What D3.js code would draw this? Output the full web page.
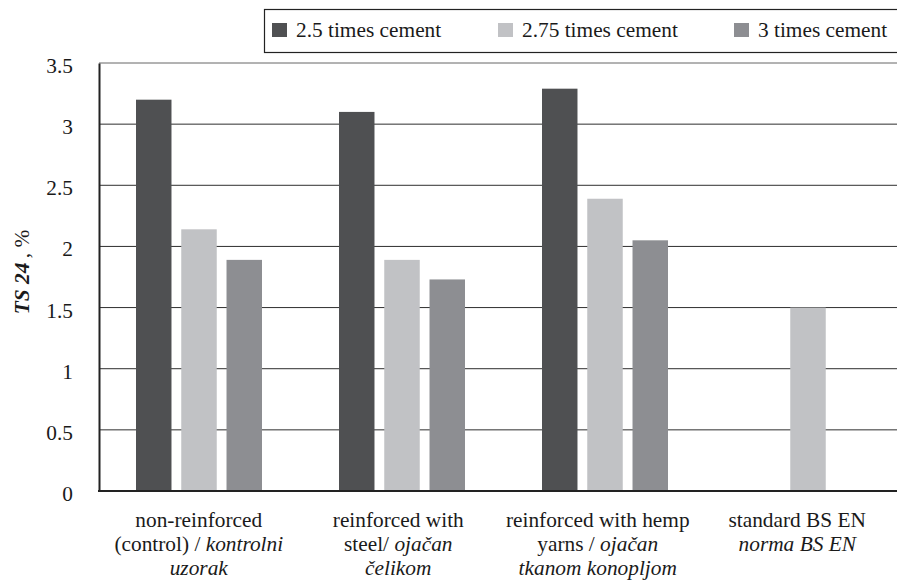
<!DOCTYPE html>
<html>
<head>
<meta charset="utf-8">
<script src="https://cdn.jsdelivr.net/npm/d3@7"></script>
<style>
  body { margin: 0; background: #fff; }
</style>
</head>
<body>
<script>
const WIDTH = 897;
const HEIGHT = 582;
const FONT = 'Times New Roman';
const FS = 24;          // drawn at 24 then scaled down
const SX = 0.89, SY = 0.84;

// data
const categories = ['non-reinforced', 'steel', 'hemp', 'standard'];
const series = ['2.5 times cement', '2.75 times cement', '3 times cement'];
const cement25 = [3.2, 3.1, 3.29, null];
const cement275 = [2.14, 1.89, 2.39, 1.5];
const cement3 = [1.89, 1.73, 2.05, null];
const yTicks = [0, 0.5, 1, 1.5, 2, 2.5, 3, 3.5];
// category labels: [text, italic] per line
const catLabels = [
  [[['non-reinforced', false]], [['(control) / ', false], ['kontrolni', true]], [['uzorak', true]]],
  [[['reinforced with', false]], [['steel/ ', false], ['ojačan', true]], [['čelikom', true]]],
  [[['reinforced with hemp', false]], [['yarns / ', false], ['ojačan', true]], [['tkanom konopljom', true]]],
  [[['standard BS  EN', false]], [['norma BS EN', true]]]
];

const colors = ['#4f5052', '#c1c2c5', '#8d8e92'];
const values = [cement25, cement275, cement3];

const plotLeft = 99, plotTop = 63, plotBottom = 491;

let svg = d3.select('body').append('svg')
  .attr('width', WIDTH)
  .attr('height', HEIGHT);

// a text placed at (x, y), scaled around its anchor point
function label(x, y, anchor, rot) {
  let g = svg.append('g')
    .attr('transform', `translate(${x},${y})` + (rot ? ` rotate(${rot})` : '') + ` scale(${SX},${SY})`);
  return g.append('text')
    .attr('font-family', FONT)
    .attr('font-size', FS)
    .attr('fill', '#1a1a1a')
    .attr('text-anchor', anchor);
}

let y = d3.scaleLinear().domain([0, 3.5]).range([plotBottom, plotTop]);

// bars sit in a band wider than the visible area, labels in the visible one
let xBars = d3.scaleBand().domain(categories).range([plotLeft, plotLeft + 812]);
let xLabels = d3.scaleBand().domain(categories).range([plotLeft, WIDTH]);
let xSub = d3.scaleBand().domain(series).range([37, 163]).paddingInner(0.216);

// grid lines
svg.append('g')
  .selectAll('line')
  .data(yTicks.slice(1))
  .join('line')
  .attr('x1', plotLeft).attr('x2', WIDTH)
  .attr('y1', d => y(d)).attr('y2', d => y(d))
  .attr('stroke', d => d === 3.5 ? '#666' : '#2e2e2e')
  .attr('stroke-width', 1);

// bars
categories.forEach((c, i) => {
  series.forEach((s, k) => {
    let v = values[k][i];
    if (v == null) return;
    svg.append('rect')
      .attr('x', xBars(c) + xSub(s))
      .attr('y', y(v))
      .attr('width', xSub.bandwidth())
      .attr('height', y(0) - y(v))
      .attr('fill', colors[k]);
  });
});

// y axis line (labels drawn separately)
let yAxis = svg.append('g')
  .attr('transform', `translate(${plotLeft},0)`)
  .call(d3.axisLeft(y).tickValues(yTicks).tickSize(0).tickFormat(() => ''));
yAxis.select('.domain').attr('stroke', '#222').attr('stroke-width', 2);

yTicks.forEach(d => {
  label(73, y(d) + 10, 'end').text(d);
});

// x baseline
svg.append('line')
  .attr('x1', plotLeft - 1).attr('x2', WIDTH)
  .attr('y1', y(0)).attr('y2', y(0))
  .attr('stroke', '#222').attr('stroke-width', 2);

// category labels
categories.forEach((c, i) => {
  let cx = xLabels(c) + xLabels.bandwidth() / 2;
  catLabels[i].forEach((line, j) => {
    let t = label(cx, 527 + j * 24, 'middle');
    line.forEach(part => {
      t.append('tspan')
        .attr('font-family', FONT)
        .attr('font-style', part[1] ? 'italic' : 'normal')
        .text(part[0]);
    });
  });
});

// y axis title
let title = label(29, 272, 'middle', -90);
title.append('tspan').attr('font-family', FONT).attr('font-weight', 'bold').attr('font-style', 'italic').text('TS 24');
title.append('tspan').attr('font-family', FONT).attr('dx', 5).text(',  %');

// legend
svg.append('rect')
  .attr('x', 264.5).attr('y', 9.5)
  .attr('width', 660).attr('height', 43)
  .attr('fill', 'none')
  .attr('stroke', '#222')
  .attr('stroke-width', 1.2);

const legendX = [272, 498, 734];
series.forEach((s, k) => {
  svg.append('rect')
    .attr('x', legendX[k]).attr('y', 23)
    .attr('width', 15).attr('height', 14)
    .attr('fill', colors[k]);
  label(legendX[k] + 24, 37, 'start').text(s);
});
</script>
</body>
</html>
